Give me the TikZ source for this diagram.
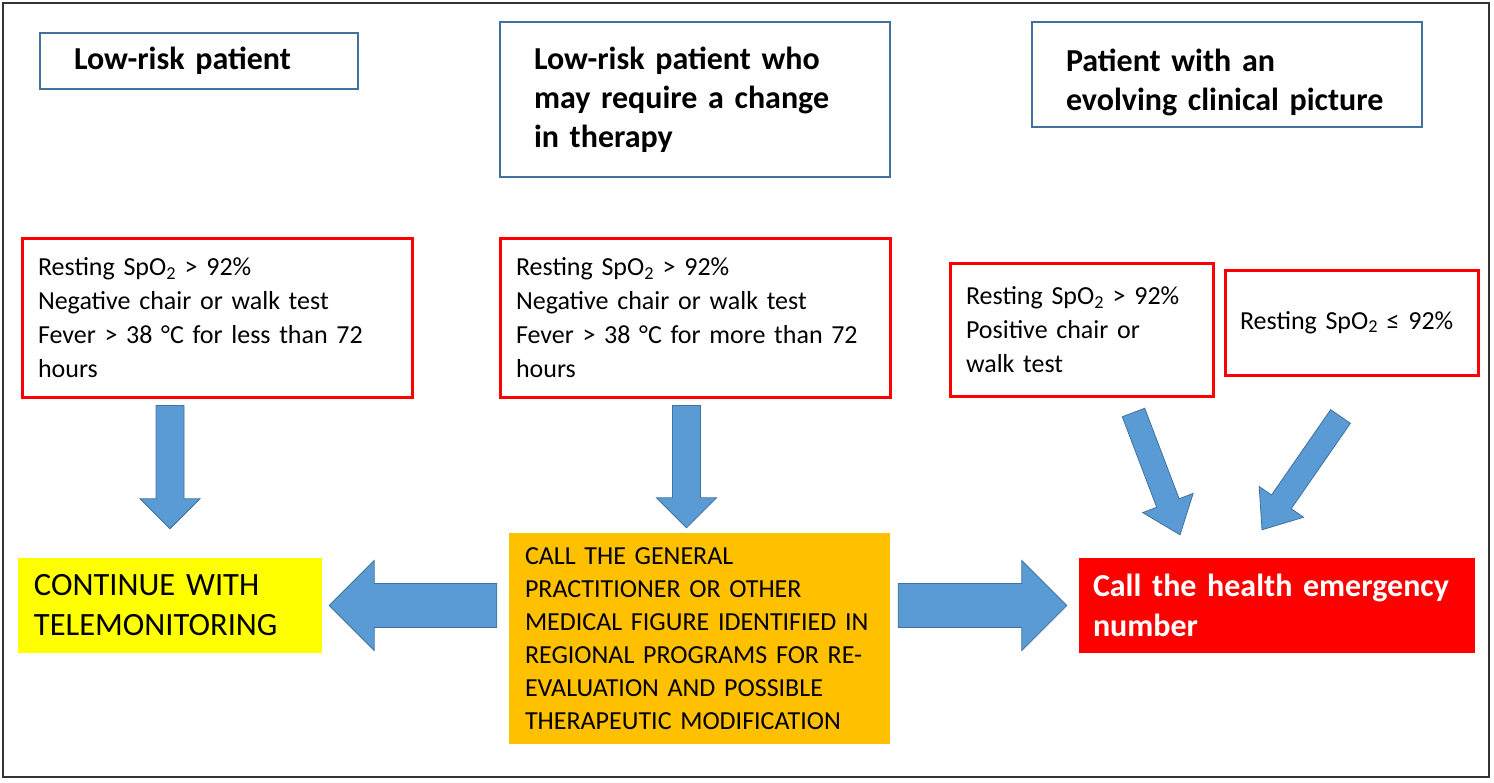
\documentclass[tikz,border=0pt]{standalone}
\usepackage{fontspec}
\setmainfont{Carlito}
\usetikzlibrary{calc}
\definecolor{boxblue}{HTML}{41719C}
\definecolor{arrowblue}{HTML}{5B9BD5}
\definecolor{boxred}{HTML}{FF0000}
\definecolor{boxyellow}{HTML}{FFFF00}
\definecolor{boxorange}{HTML}{FFC000}
\tikzset{
  headbox/.style={draw=boxblue, line width=2.5pt, align=left, inner xsep=34pt, inner ysep=0pt,
    font=\fontsize{32}{39}\selectfont\bfseries},
  critbox/.style={draw=boxred, line width=3pt, align=left, inner xsep=16pt, inner ysep=0pt,
    font=\fontsize{26}{34}\selectfont},
  actbox/.style={align=left, inner xsep=16pt, inner ysep=0pt},
  fatarrow/.style={fill=arrowblue, draw=boxblue, line width=0.8pt, line join=miter}
}
% block arrow: shaft half width, head half width, head length, start, tip
\newcommand\fatarrow[5]{%
  \path (#4) coordinate (fa-s) (#5) coordinate (fa-t);
  \path ($(fa-t)!#3pt!(fa-s)$) coordinate (fa-h);
  \draw[fatarrow] ($(fa-s)!#1pt!90:(fa-t)$) -- ($(fa-h)!#1pt!90:(fa-t)$) -- ($(fa-h)!#2pt!90:(fa-t)$)
    -- (fa-t) -- ($(fa-h)!#2pt!-90:(fa-t)$) -- ($(fa-h)!#1pt!-90:(fa-t)$) -- ($(fa-s)!#1pt!-90:(fa-t)$) -- cycle;}
\begin{document}
\begin{tikzpicture}[x=1pt, y=-1pt]
\useasboundingbox (0,0) rectangle (1494,782);
\draw[line width=2.5pt, draw=black!80] (3,3) rectangle (1489,777);

% patient groups
\node[headbox, minimum width=318pt, minimum height=56pt, text width=250pt] (low) at (199,61) {Low-risk patient};
\node[headbox, minimum width=390pt, minimum height=155pt, text width=322pt] (change) at (695,99.5)
  {Low-risk patient who\\may require a change\\in therapy};
\node[headbox, minimum width=390pt, minimum height=105pt, text width=322pt] (evolve) at (1227,74.5)
  {\rule{0pt}{38pt}Patient with an\\evolving clinical picture};

% criteria
\node[critbox, minimum width=390pt, minimum height=159pt, text width=358pt] (crit1) at (217,317.5)
  {Resting SpO\textsubscript{2} > 92\%\\Negative chair or walk test\\Fever > 38 °C for less than 72\\hours};
\node[critbox, minimum width=390pt, minimum height=159pt, text width=358pt] (crit2) at (695,317.5)
  {Resting SpO\textsubscript{2} > 92\%\\Negative chair or walk test\\Fever > 38 °C for more than 72\\hours};
\node[critbox, minimum width=263pt, minimum height=133pt, text width=231pt] (crit3) at (1081.5,329.5)
  {Resting SpO\textsubscript{2} > 92\%\\Positive chair or\\walk test};
\node[critbox, minimum width=253pt, minimum height=105pt, text width=223pt, inner xsep=15pt] (crit4) at (1351.5,322.5)
  {Resting SpO\textsubscript{2} ≤ 92\%};

% actions
\node[actbox, fill=boxyellow, minimum width=304pt, minimum height=95pt, text width=272pt,
  font=\fontsize{32.5}{40}\selectfont] (cont) at (170,605.5) {CONTINUE WITH\\TELEMONITORING};
\node[actbox, fill=boxorange, minimum width=381pt, minimum height=211pt, text width=349pt,
  font=\fontsize{26}{33}\selectfont] (gp) at (699.5,638.5)
  {CALL THE GENERAL\\PRACTITIONER OR OTHER\\MEDICAL FIGURE IDENTIFIED IN\\REGIONAL PROGRAMS FOR RE-\\EVALUATION AND POSSIBLE\\THERAPEUTIC MODIFICATION};
\node[actbox, fill=boxred, text=white, minimum width=396pt, minimum height=95pt, text width=368pt, inner xsep=14pt,
  font=\fontsize{32}{40}\selectfont\bfseries] (call) at (1277,605.5) {Call the health emergency\\number};

% arrows
\fatarrow{14}{30}{30}{$(crit1.south -| cont.north)+(0,7)$}{$(cont.north)+(0,-29)$}
\fatarrow{14}{30}{30}{$(crit2.south -| gp.north)+(-13,7)$}{$(gp.north)+(-13,-5)$}
\fatarrow{22}{45}{45}{$(gp.west |- cont.east)+(-12,0)$}{$(cont.east)+(7,0)$}
\fatarrow{22}{45}{45}{$(gp.east |- call.west)+(8,0)$}{$(call.west)+(-12,0)$}
\fatarrow{12}{27}{34}{$(crit3.south)+(52,15)$}{$(call.north)+(-97,-23)$}
\fatarrow{12}{27}{34}{$(crit4.south)+(-11,40)$}{$(call.north)+(-15,-28)$}
\end{tikzpicture}
\end{document}
